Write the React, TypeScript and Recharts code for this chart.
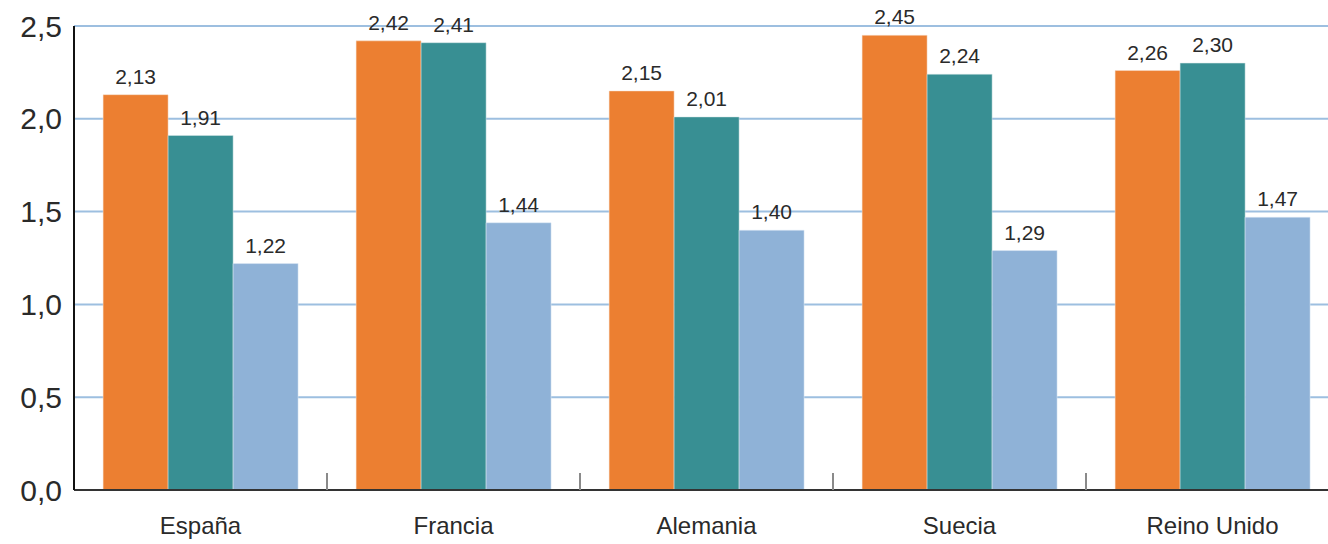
import React from "react";
import { BarChart, Bar, XAxis, YAxis, CartesianGrid, LabelList } from "recharts";

const countries = ["España", "Francia", "Alemania", "Suecia", "Reino Unido"];
const serieA = [2.13, 2.42, 2.15, 2.45, 2.26];
const serieB = [1.91, 2.41, 2.01, 2.24, 2.3];
const serieC = [1.22, 1.44, 1.4, 1.29, 1.47];
const yTicks = [0, 0.5, 1, 1.5, 2, 2.5];

const data = countries.map((name, i) => ({
    name,
    a: serieA[i],
    b: serieB[i],
    c: serieC[i],
}));

const font = "'Liberation Sans', Arial, Helvetica, sans-serif";
const textColor = "#2a2a2a";
const X_TICK_MARGIN = 27;

// decimal comma, as in the source
const fmt1 = (v: number) => v.toFixed(1).replace(".", ",");
const fmt2 = (v: any) => Number(v).toFixed(2).replace(".", ",");

const labelStyle = { fontSize: 21, fill: textColor, fontFamily: font };

// country label + small gray separator at the left edge of the band
const CountryTick = (props: any) => {
    const { x, y, payload, index } = props;
    const half = payload && payload.offset ? payload.offset : 0;
    const axisY = y - X_TICK_MARGIN;
    return (
        <g>
            {index > 0 && half > 0 && (
                <line x1={x - half} x2={x - half} y1={axisY} y2={axisY - 17} stroke="#8a8a8a" strokeWidth={2} />
            )}
            <text x={x} y={y} dy="0.71em" textAnchor="middle" fontSize={24} fill={textColor} fontFamily={font}>
                {payload.value}
            </text>
        </g>
    );
};

const App: React.FC = () => {
    return (
        <div style={{ position: "absolute", left: 0, top: 0, width: 1328, height: 544, overflow: "hidden", background: "#fff" }}>
            <BarChart
                width={1339}
                height={544}
                data={data}
                margin={{ top: 26, right: 0, bottom: 0, left: 0 }}
                barGap={0}
                barCategoryGap="11.5%"
            >
                <CartesianGrid vertical={false} stroke="#9dbfe0" strokeWidth={2} />
                <XAxis
                    dataKey="name"
                    height={54}
                    tickLine={false}
                    tickSize={0}
                    tickMargin={X_TICK_MARGIN}
                    axisLine={{ stroke: "#333", strokeWidth: 2 }}
                    tick={<CountryTick />}
                    interval={0}
                />
                <YAxis
                    width={74}
                    domain={[0, 2.5]}
                    ticks={yTicks}
                    tickFormatter={fmt1}
                    tickLine={false}
                    tickSize={0}
                    tickMargin={12}
                    axisLine={{ stroke: "#111", strokeWidth: 2 }}
                    tick={{ fontSize: 30, fill: textColor, fontFamily: font }}
                />
                <Bar dataKey="a" fill="#ec7f31" stroke="#f6e2d2" strokeWidth={0.5} isAnimationActive={false}>
                    <LabelList dataKey="a" position="top" offset={11} formatter={fmt2} style={labelStyle} />
                </Bar>
                <Bar dataKey="b" fill="#388f93" stroke="#d4e6e7" strokeWidth={0.5} isAnimationActive={false}>
                    <LabelList dataKey="b" position="top" offset={11} formatter={fmt2} style={labelStyle} />
                </Bar>
                <Bar dataKey="c" fill="#8fb2d7" stroke="#e3ecf6" strokeWidth={0.5} isAnimationActive={false}>
                    <LabelList dataKey="c" position="top" offset={11} formatter={fmt2} style={labelStyle} />
                </Bar>
            </BarChart>
        </div>
    );
};

export default App;
